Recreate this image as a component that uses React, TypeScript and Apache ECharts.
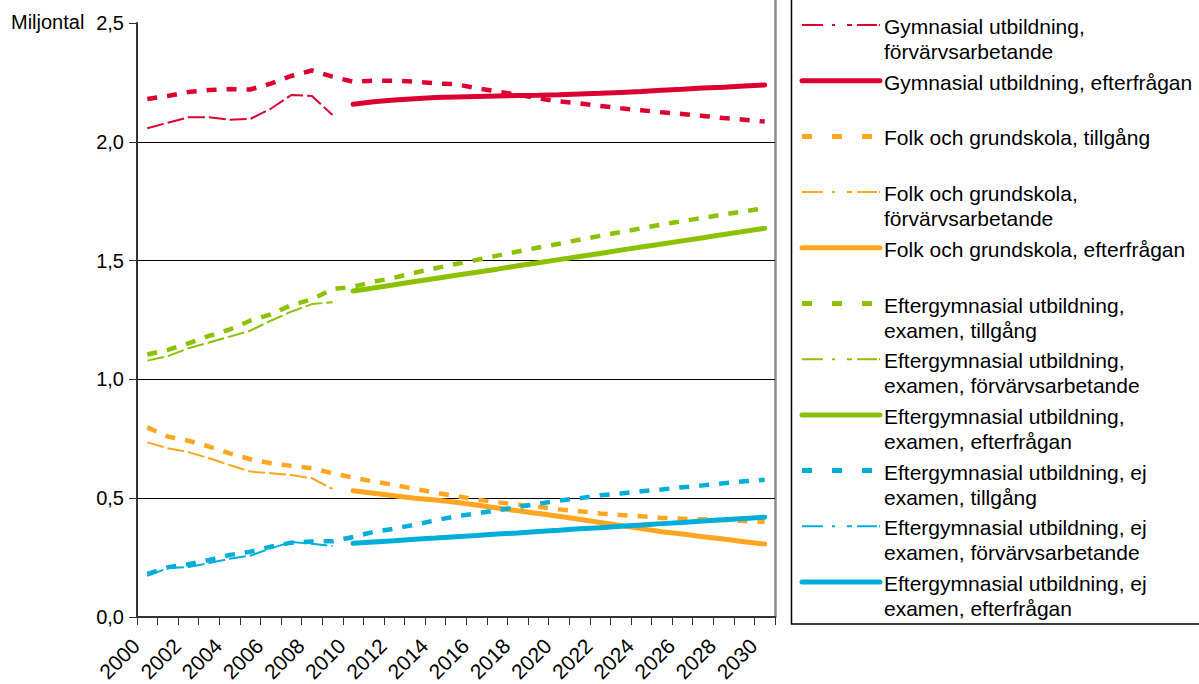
import React, { useEffect, useRef } from "react";
import * as echarts from "echarts";

const years = [
  "2000", "2001", "2002", "2003", "2004", "2005", "2006", "2007", "2008", "2009",
  "2010", "2011", "2012", "2013", "2014", "2015", "2016", "2017", "2018", "2019",
  "2020", "2021", "2022", "2023", "2024", "2025", "2026", "2027", "2028", "2029", "2030",
];

const N = null;

// Gymnasial utbildning
const gymTillgang = [2.180, 2.193, 2.210, 2.218, 2.222, 2.220, 2.245, 2.277, 2.300, 2.274, 2.253, 2.257, 2.257, 2.253, 2.246, 2.242, 2.226, 2.212, 2.198, 2.183, 2.170, 2.162, 2.151, 2.141, 2.133, 2.124, 2.117, 2.109, 2.100, 2.093, 2.085];
const gymForv = [2.057, 2.080, 2.103, 2.103, 2.093, 2.096, 2.139, 2.197, 2.193, 2.113, N, N, N, N, N, N, N, N, N, N, N, N, N, N, N, N, N, N, N, N, N];
const gymEfter = [N, N, N, N, N, N, N, N, N, N, 2.158, 2.169, 2.176, 2.181, 2.186, 2.189, 2.191, 2.193, 2.195, 2.196, 2.198, 2.201, 2.204, 2.208, 2.212, 2.217, 2.221, 2.226, 2.230, 2.235, 2.239];

// Folk och grundskola
const folkTillgang = [0.798, 0.759, 0.742, 0.717, 0.689, 0.664, 0.647, 0.636, 0.626, 0.605, 0.587, 0.570, 0.556, 0.539, 0.523, 0.509, 0.494, 0.483, 0.473, 0.464, 0.453, 0.445, 0.436, 0.429, 0.424, 0.417, 0.414, 0.411, 0.408, 0.404, 0.400];
const folkForv = [0.735, 0.710, 0.694, 0.668, 0.640, 0.612, 0.605, 0.598, 0.584, 0.539, N, N, N, N, N, N, N, N, N, N, N, N, N, N, N, N, N, N, N, N, N];
const folkEfter = [N, N, N, N, N, N, N, N, N, N, 0.531, 0.521, 0.510, 0.500, 0.492, 0.483, 0.471, 0.459, 0.447, 0.436, 0.424, 0.411, 0.398, 0.385, 0.372, 0.359, 0.349, 0.338, 0.328, 0.317, 0.307];

// Eftergymnasial utbildning, examen
const exTillgang = [1.105, 1.124, 1.152, 1.183, 1.210, 1.247, 1.274, 1.313, 1.337, 1.380, 1.390, 1.411, 1.428, 1.449, 1.468, 1.486, 1.503, 1.521, 1.538, 1.555, 1.571, 1.588, 1.604, 1.620, 1.636, 1.652, 1.666, 1.680, 1.694, 1.707, 1.720];
const exForv = [1.079, 1.098, 1.131, 1.155, 1.180, 1.205, 1.247, 1.285, 1.317, 1.325, N, N, N, N, N, N, N, N, N, N, N, N, N, N, N, N, N, N, N, N, N];
const exEfter = [N, N, N, N, N, N, N, N, N, N, 1.372, 1.385, 1.398, 1.412, 1.425, 1.438, 1.451, 1.464, 1.478, 1.491, 1.504, 1.517, 1.530, 1.544, 1.557, 1.570, 1.583, 1.596, 1.610, 1.623, 1.636];

// Eftergymnasial utbildning, ej examen
const ejTillgang = [0.181, 0.209, 0.222, 0.240, 0.261, 0.275, 0.296, 0.313, 0.318, 0.319, 0.337, 0.358, 0.372, 0.388, 0.407, 0.424, 0.436, 0.449, 0.463, 0.477, 0.490, 0.500, 0.512, 0.520, 0.529, 0.537, 0.546, 0.554, 0.563, 0.571, 0.578];
const ejForv = [0.173, 0.206, 0.210, 0.227, 0.245, 0.258, 0.289, 0.316, 0.308, 0.299, N, N, N, N, N, N, N, N, N, N, N, N, N, N, N, N, N, N, N, N, N];
const ejEfter = [N, N, N, N, N, N, N, N, N, N, 0.310, 0.316, 0.321, 0.327, 0.332, 0.338, 0.343, 0.349, 0.354, 0.360, 0.365, 0.371, 0.376, 0.382, 0.387, 0.393, 0.398, 0.404, 0.409, 0.415, 0.420];

const yTicks = [0, 0.5, 1.0, 1.5, 2.0, 2.5];

const RED = "#DC0032";
const ORANGE = "#FFA620";
const GREEN = "#8CC100";
const BLUE = "#00AED8";

type Kind = "tillgang" | "forv" | "efter";

const seriesDefs: { name: string; data: (number | null)[]; color: string; kind: Kind; inLegend: boolean }[] = [
  { name: "Gymnasial utbildning, tillgång", data: gymTillgang, color: RED, kind: "tillgang", inLegend: false },
  { name: "Gymnasial utbildning,\nförvärvsarbetande", data: gymForv, color: RED, kind: "forv", inLegend: true },
  { name: "Gymnasial utbildning, efterfrågan", data: gymEfter, color: RED, kind: "efter", inLegend: true },
  { name: "Folk och grundskola, tillgång", data: folkTillgang, color: ORANGE, kind: "tillgang", inLegend: true },
  { name: "Folk och grundskola,\nförvärvsarbetande", data: folkForv, color: ORANGE, kind: "forv", inLegend: true },
  { name: "Folk och grundskola, efterfrågan", data: folkEfter, color: ORANGE, kind: "efter", inLegend: true },
  { name: "Eftergymnasial utbildning,\nexamen, tillgång", data: exTillgang, color: GREEN, kind: "tillgang", inLegend: true },
  { name: "Eftergymnasial utbildning,\nexamen, förvärvsarbetande", data: exForv, color: GREEN, kind: "forv", inLegend: true },
  { name: "Eftergymnasial utbildning,\nexamen, efterfrågan", data: exEfter, color: GREEN, kind: "efter", inLegend: true },
  { name: "Eftergymnasial utbildning, ej\nexamen, tillgång", data: ejTillgang, color: BLUE, kind: "tillgang", inLegend: true },
  { name: "Eftergymnasial utbildning, ej\nexamen, förvärvsarbetande", data: ejForv, color: BLUE, kind: "forv", inLegend: true },
  { name: "Eftergymnasial utbildning, ej\nexamen, efterfrågan", data: ejEfter, color: BLUE, kind: "efter", inLegend: true },
];

const FONT = "'Liberation Sans', Arial, sans-serif";

function lineStyleFor(kind: Kind, color: string) {
  if (kind === "tillgang") return { color, width: 4.5, type: [10, 10] as any, cap: "butt" as const };
  if (kind === "forv") return { color, width: 2, type: [17, 4] as any, cap: "butt" as const };
  return { color, width: 5, type: "solid" as const, cap: "round" as const };
}

function legendIconStyle(kind: Kind, color: string) {
  if (kind === "tillgang") return { stroke: color, lineWidth: 5, lineDash: [10, 20], lineCap: "butt" };
  if (kind === "forv") return { stroke: color, lineWidth: 2, lineDash: [21, 9, 3, 12, 5, 5, 20, 2, 3], lineCap: "butt" };
  return { stroke: color, lineWidth: 5, lineCap: "round" };
}

export default function App() {
  const ref = useRef<HTMLDivElement>(null);

  useEffect(() => {
    if (!ref.current) return;
    const chart = echarts.init(ref.current, undefined, { renderer: "svg" });

    const legendItems = seriesDefs.filter((s) => s.inLegend);
    const legendGraphics: any[] = [];
    legendItems.forEach((s, k) => {
      const cy = 26.5 + k * 55.7;
      legendGraphics.push({
        type: "line",
        shape: { x1: 802, y1: cy - 1.5, x2: 880, y2: cy - 1.5 },
        style: legendIconStyle(s.kind, s.color),
        silent: true,
      });
      legendGraphics.push({
        type: "text",
        x: 884,
        y: cy - 12.5,
        style: {
          text: s.name,
          font: `21px ${FONT}`,
          lineHeight: 25,
          fill: "#000",
          verticalAlign: "top",
          align: "left",
        },
        silent: true,
      });
    });

    chart.setOption({
      animation: false,
      backgroundColor: "#fff",
      grid: { left: 137, top: 23, width: 638, height: 594, containLabel: false, outerBoundsMode: "none" },
      xAxis: {
        type: "category",
        data: years,
        boundaryGap: true,
        axisLine: { show: true, lineStyle: { color: "#333", width: 2 } },
        axisTick: { show: true, interval: 0, alignWithLabel: false, length: 8, lineStyle: { color: "#333", width: 1 } },
        axisLabel: {
          interval: 1,
          rotate: 45,
          margin: 14,
          padding: [0, 16, 0, 0],
          color: "#000",
          fontSize: 21,
          fontFamily: FONT,
        },
        splitLine: { show: false },
      },
      yAxis: {
        type: "value",
        min: yTicks[0],
        max: yTicks[yTicks.length - 1],
        interval: 0.5,
        axisLine: { show: true, lineStyle: { color: "#333", width: 2 } },
        axisTick: { show: true, length: 8, lineStyle: { color: "#333", width: 1 } },
        axisLabel: {
          color: "#000",
          fontSize: 20,
          fontFamily: FONT,
          margin: 13,
          formatter: (v: number) => v.toFixed(1).replace(".", ","),
        },
        splitLine: {
          show: true,
          lineStyle: { color: ["#000", "#000", "#000", "#000", "#000", "transparent"], width: 1 },
        },
      },
      series: seriesDefs.map((s) => ({
        name: s.name,
        type: "line",
        data: s.data,
        symbol: "none",
        showSymbol: false,
        connectNulls: false,
        smooth: false,
        lineStyle: lineStyleFor(s.kind, s.color),
        itemStyle: { color: s.color },
        emphasis: { disabled: true },
      })),
      graphic: [
        {
          type: "line",
          shape: { x1: 775.5, y1: 0, x2: 775.5, y2: 618 },
          style: { stroke: "#8c8c8c", lineWidth: 2.5 },
          silent: true,
        },
        {
          type: "rect",
          shape: { x: 791.5, y: -10, width: 420, height: 634 },
          style: { fill: "none", stroke: "#000", lineWidth: 1.5 },
          silent: true,
        },
        {
          type: "text",
          x: 11,
          y: 22,
          style: {
            text: "Miljontal",
            font: `20px ${FONT}`,
            fill: "#000",
            verticalAlign: "middle",
            align: "left",
          },
          silent: true,
        },
        ...legendGraphics,
      ],
    });

    return () => {
      chart.dispose();
    };
  }, []);

  return (
    <div
      ref={ref}
      style={{ position: "fixed", left: 0, top: 0, width: 1199, height: 684, background: "#fff" }}
    />
  );
}
